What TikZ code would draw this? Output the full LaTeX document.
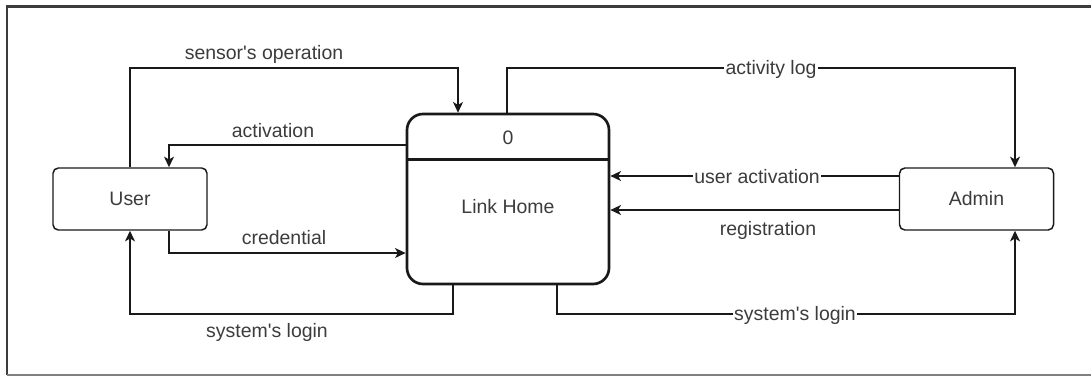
\documentclass[tikz,border=0pt]{standalone}
\usepackage{fontspec}
\setmainfont{Liberation Sans}
\usetikzlibrary{arrows.meta,calc}
\definecolor{txt}{RGB}{60,60,60}
\definecolor{ln}{RGB}{25,25,25}
\begin{document}
\begin{tikzpicture}[x=0.75pt,y=-0.75pt,
  every node/.style={font=\fontsize{14.6}{17}\selectfont, text=txt},
  entity/.style={draw=ln, line width=1.1pt, rounded corners=4pt, minimum width=115.5pt, minimum height=46.5pt, inner sep=0pt},
  proc/.style={draw=ln, line width=2pt, rounded corners=12pt, minimum width=151.5pt, minimum height=127.5pt, inner sep=0pt},
  flow/.style={draw=ln, line width=1pt, -{Stealth[length=8pt,width=7.5pt,inset=2.2pt]}},
  onlabel/.style={fill=white, inner sep=1pt},
  label/.style={inner sep=1pt}]
\useasboundingbox (0,0) rectangle (1091,376);
% frame
\draw[line width=1.6pt, draw=ln!85] (1091,6.5) -- (7,6.5) -- (7,375);
\draw[line width=1.4pt, draw=gray] (7,375) -- (1091,375);

% nodes
\node[entity] (user) at (130,199) {User};
\node[entity] (admin) at (976.5,199) {Admin};
\node[proc] (lh) at (508,199) {};
\draw[ln, line width=2pt] ($(lh.north west)+(0,47)$) coordinate (dl) -- (dl -| lh.east);
\node (num) at (508,138) {0};
\node (lhname) at (508,207) {Link Home};

% waypoints
\coordinate (sTop) at (458,68);
\coordinate (aY) at (169,145);
\coordinate (cY) at (169,253);
\coordinate (lA) at (453,314);
\coordinate (alA) at (507,68);
\coordinate (alB) at (1015,68);
\coordinate (uaY) at (750,176);
\coordinate (rY) at (750,210);
\coordinate (srA) at (557,314);
\coordinate (srB) at (1015,314);

% connectors
\draw[flow] (user.north) |- (sTop) -- (sTop |- lh.north);
\draw[flow] (aY -| lh.west) -- (aY) -- (aY |- user.north);
\draw[flow] (cY |- user.south) -- (cY) -- (cY -| lh.west);
\draw[flow] (lA |- lh.south) -- (lA) -| (user.south);
\draw[flow] (alA |- lh.north) -- (alA) -- (alB) -- (alB |- admin.north);
\draw[flow] (uaY -| admin.west) -- (uaY -| lh.east);
\draw[flow] (rY -| admin.west) -- (rY -| lh.east);
\draw[flow] (srA |- lh.south) -- (srA) -- (srB) -- (srB |- admin.south);

% labels
\node[label] (l1) at (264,54) {sensor\textquotesingle s operation};
\node[label] (l2) at (273,131) {activation};
\node[label] (l3) at (284,238) {credential};
\node[label] (l4) at (267,332) {system\textquotesingle s login};
\node[onlabel] (l5) at (771,69) {activity log};
\node[onlabel] (l6) at (757,177) {user activation};
\node[label] (l7) at (768,230) {registration};
\node[onlabel] (l8) at (795,315) {system\textquotesingle s login};
\end{tikzpicture}
\end{document}
